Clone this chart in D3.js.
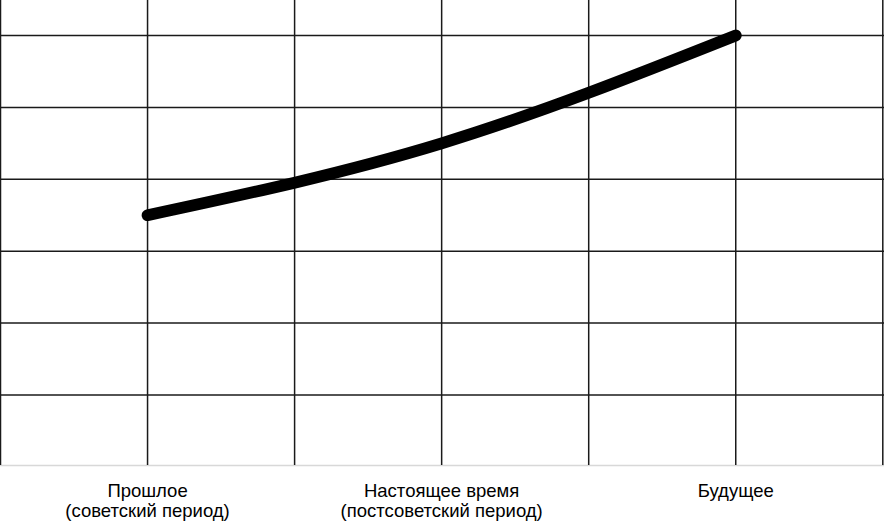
<!DOCTYPE html>
<html><head><meta charset="utf-8">
<script src="https://cdn.jsdelivr.net/npm/d3@7"></script>
<style>html,body{margin:0;padding:0;background:#fff;}svg{display:block;}</style>
</head><body>
<svg id="c" width="884" height="521"></svg>
<script>
const categories = [["Прошлое","(советский период)"],["Настоящее время","(постсоветский период)"],["Будущее"]];
const values = [3.5, 4.5, 6];
const yTicks = [1, 2, 3, 4, 5, 6];
const xGrid = [0, 1, 2, 3, 4, 5, 6];

const svg = d3.select("#c");
const W = 884;
const x = d3.scaleLinear().domain([0, 6]).range([0.5, 882.8]);
const y = d3.scaleLinear().domain([0, 6]).range([466.8, 35.5]);
const catPos = i => x(2 * i + 1);

// bottom faint line
svg.append("line").attr("x1", 0).attr("x2", W).attr("y1", 465.5).attr("y2", 465.5)
  .attr("stroke", "#d8d8d8").attr("stroke-width", 1.5);

// horizontal grid
svg.append("g").selectAll("line").data(yTicks).join("line")
  .attr("x1", 0).attr("x2", W)
  .attr("y1", d => y(d)).attr("y2", d => y(d))
  .attr("stroke", "#1a1a1a").attr("stroke-width", 1.5);

// vertical grid
svg.append("g").selectAll("line").data(xGrid).join("line")
  .attr("x1", d => x(d)).attr("x2", d => x(d))
  .attr("y1", 0).attr("y2", 465)
  .attr("stroke", "#1a1a1a").attr("stroke-width", 1.5);

// the line
const line = d3.line().x((d, i) => catPos(i)).y(d => y(d)).curve(d3.curveMonotoneX);
svg.append("path").datum(values).attr("d", line)
  .attr("fill", "none").attr("stroke", "#000").attr("stroke-width", 11.8)
  .attr("stroke-linecap", "round").attr("stroke-linejoin", "round");

// labels
const lab = svg.append("g").attr("font-family", "'Liberation Sans', Arial, sans-serif")
  .attr("font-size", 18.5).attr("fill", "#000").attr("text-anchor", "middle");
categories.forEach((lines, i) => {
  const t = lab.append("text").attr("x", catPos(i)).attr("y", 496.5);
  lines.forEach((s, j) => t.append("tspan").attr("x", catPos(i)).attr("dy", j ? 20.5 : 0).text(s));
});
</script>
</body></html>
